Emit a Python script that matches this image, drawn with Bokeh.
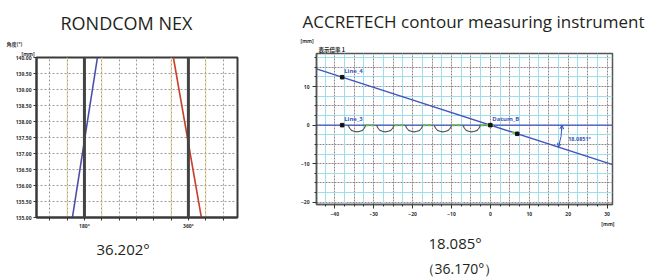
import numpy as np
from bokeh.plotting import figure
from bokeh.layouts import row
from bokeh.models import (Range1d, FixedTicker, Span, Label, Arrow, OpenHead, Grid,
                          NumeralTickFormatter, Title)
from bokeh.embed import file_html
from bokeh.resources import INLINE

FONT = "Open Sans"
JFONT = "Noto Sans CJK JP"

# ---------------- Left panel data (RONDCOM NEX) ----------------
left_title = "RONDCOM NEX"
left_result = "36.202°"
left_y_caption = "角度(°)"
left_unit = "[mm]"
left_x_ticks = [120, 150, 180, 210, 240, 270, 300, 330, 360, 390, 420]
left_x_labels = {180: "180°", 360: "360°"}
left_y_ticks = [135.0, 135.5, 136.0, 136.5, 137.0, 137.5, 138.0, 138.5, 139.0, 139.5, 140.0]
left_ref_x = [180, 360]
left_marker_x = [150, 210, 330, 390]
blue_x = [159.2, 202.5]
blue_y = [135.0, 140.0]
red_x = [334.0, 382.5]
red_y = [140.0, 135.0]

# ---------------- Right panel data (ACCRETECH) ----------------
right_title = "ACCRETECH contour measuring instrument"
right_result = "18.085°"
right_result2 = "（36.170°）"
right_scale_caption = "表示倍率 1"
right_unit = "[mm]"
right_x_major = [-40, -30, -20, -10, 0, 10, 20, 30]
right_y_major = [-20, -10, 0, 10]
right_x_minor = [-42.5, -37.5, -35, -32.5, -27.5, -25, -22.5, -17.5, -15, -12.5, -7.5, -5, -2.5,
                 2.5, 5, 7.5, 12.5, 15, 17.5, 22.5, 25, 27.5]
right_y_minor = [-17.5, -15, -12.5, -7.5, -5, -2.5, 2.5, 5, 7.5, 12.5, 15, 17.5]
grid_dark_x = [-40, -35, -30, -25, -20, -15, -10, -5, 0, 5, 10, 15, 20, 25, 30]
grid_cyan_x = [-42.5, -37.5, -32.5, -27.5, -22.5, -17.5, -12.5, -7.5, -2.5, 2.5, 7.5, 12.5, 17.5, 22.5, 27.5]
grid_dark_y = [-20, -15, -10, -5, 0, 5, 10, 15]
grid_cyan_y = [-17.5, -12.5, -7.5, -2.5, 2.5, 7.5, 12.5, 17.5]
line4_x = [-44.7, 31.4]
line4_y = [14.6, -10.25]
line3_x = [-44.7, 31.4]
line3_y = [0.0, 0.0]
scallop_cx = [-34.3, -27.0, -19.6, -12.2, -4.8]
scallop_cy = 0.64
scallop_r = 2.34
green_xs = [[-32.0, -29.4], [-24.6, -22.0], [-17.3, -14.6], [-9.9, -7.2], [-2.5, 1.3], [5.6, 6.9]]
green_ys = [[0, 0], [0, 0], [0, 0], [0, 0], [0, 0], [-1.83, -2.25]]
point_x = [-38.1, -38.1, 0.0, 6.9]
point_y = [12.45, 0.0, 0.0, -2.25]
point_names = ["Line_4", "Line_3", "Datum_B", ""]
angle_deg = 18.0851
angle_radius = 18.4
angle_text = "18.0851°"

BLUE = "#3f55c0"
TXT = "#231f20"


def small_axis(ax, size="5px"):
    ax.major_label_text_font_size = size
    ax.major_label_text_font = FONT
    ax.major_label_text_font_style = "bold"
    ax.major_label_text_color = "#333333"


def title(text, size, offset=0, standoff=0, align="left", font=FONT, style="normal", color=TXT):
    return Title(text=text, text_font=font, text_font_size=size, text_font_style=style,
                 text_color=color, align=align, offset=offset, standoff=standoff)


def no_frame_align(p):
    try:
        p.frame_align = False
    except Exception:
        pass


# =============== Left figure ===============
p1 = figure(width=290, height=277, x_range=Range1d(97, 445), y_range=Range1d(135, 140),
            output_backend="svg", toolbar_location=None, title=None,
            min_border_left=36, min_border_right=53, min_border_top=57, min_border_bottom=60)
no_frame_align(p1)
p1.outline_line_color = "#3a3a3a"
p1.outline_line_width = 2
p1.xaxis.ticker = FixedTicker(ticks=left_x_ticks)
p1.xaxis.major_label_overrides = {t: left_x_labels.get(t, "") for t in left_x_ticks}
p1.yaxis.ticker = FixedTicker(ticks=left_y_ticks)
p1.yaxis.formatter = NumeralTickFormatter(format="0.00")
for ax in (p1.xaxis[0], p1.yaxis[0]):
    small_axis(ax)
    ax.axis_line_color = "#3a3a3a"
    ax.axis_line_width = 2
    ax.major_tick_in = 0
    ax.major_tick_out = 3
    ax.major_tick_line_color = "#333333"
    ax.minor_tick_line_color = None
    ax.major_label_standoff = 2
p1.xgrid.ticker = FixedTicker(ticks=left_x_ticks)
p1.ygrid.ticker = FixedTicker(ticks=left_y_ticks)
p1.xgrid.grid_line_color = "#9a9a9a"
p1.ygrid.grid_line_color = "#9a9a9a"
p1.xgrid.grid_line_dash = "2 2"
p1.ygrid.grid_line_dash = "2 2"
for xm in left_marker_x:
    p1.add_layout(Span(location=xm, dimension="height", line_color="#e6d27a",
                       line_dash="2 2", line_width=1.2))
for xr in left_ref_x:
    p1.add_layout(Span(location=xr, dimension="height", line_color="#444444", line_width=3))
p1.line(blue_x, blue_y, line_color="#4d4da8", line_width=1.6)
p1.line(red_x, red_y, line_color="#c8402e", line_width=1.6)

# texts around the left frame (closest panel first)
p1.add_layout(title(left_unit, "5px", offset=-15, standoff=2, style="bold", color="#333333"), "above")
p1.add_layout(title(left_y_caption, "5px", offset=-30, standoff=1.5, font=JFONT, style="bold",
                    color="#333333"), "above")
p1.add_layout(title(left_title, "18px", offset=24, standoff=4), "above")
p1.add_layout(title(left_result, "15px", offset=60, standoff=11), "below")

# =============== Right figure ===============
p2 = figure(width=355, height=277, x_range=Range1d(-44.7, 31.4), y_range=Range1d(-20.6, 18.6),
            output_backend="svg", toolbar_location=None, title=None,
            min_border_left=26, min_border_right=33, min_border_top=53, min_border_bottom=70)
no_frame_align(p2)
p2.outline_line_color = "#555555"
p2.outline_line_width = 1.5
p2.xaxis.ticker = FixedTicker(ticks=right_x_major, minor_ticks=right_x_minor)
p2.yaxis.ticker = FixedTicker(ticks=right_y_major, minor_ticks=right_y_minor)
for ax in (p2.xaxis[0], p2.yaxis[0]):
    small_axis(ax)
    ax.axis_line_color = "#555555"
    ax.axis_line_width = 1.5
    ax.major_tick_in = 0
    ax.major_tick_out = 4
    ax.minor_tick_in = 0
    ax.minor_tick_out = 2
    ax.major_tick_line_color = "#333333"
    ax.minor_tick_line_color = "#333333"
    ax.major_label_standoff = 3
p2.xgrid.ticker = FixedTicker(ticks=grid_dark_x)
p2.ygrid.ticker = FixedTicker(ticks=grid_dark_y)
for g in (p2.xgrid[0], p2.ygrid[0]):
    g.grid_line_color = "#8a8a8a"
    g.grid_line_dash = "2 1"
p2.add_layout(Grid(dimension=0, ticker=FixedTicker(ticks=grid_cyan_x),
                   grid_line_color="#9fdcec", grid_line_width=1))
p2.add_layout(Grid(dimension=1, ticker=FixedTicker(ticks=grid_cyan_y),
                   grid_line_color="#9fdcec", grid_line_width=1))

p2.line(line3_x, line3_y, line_color=BLUE, line_width=1.4)
p2.line(line4_x, line4_y, line_color=BLUE, line_width=1.4)
half = np.degrees(np.arcsin(scallop_cy / scallop_r))
p2.arc(x=scallop_cx, y=[scallop_cy] * len(scallop_cx), radius=scallop_r,
       start_angle=180 + half, end_angle=360 - half, start_angle_units="deg",
       end_angle_units="deg", line_color="#555555", line_width=1.2)
p2.multi_line(green_xs, green_ys, line_color="#6cc04a", line_width=2.2, line_dash="3 2")
p2.scatter(point_x, point_y, marker="square", size=3.5, fill_color="#111111", line_color="#111111")
for nx, ny, nm in zip(point_x, point_y, point_names):
    if nm:
        p2.add_layout(Label(x=nx, y=ny, x_offset=2, y_offset=2, text=nm, text_font=FONT,
                            text_font_size="6px", text_font_style="bold",
                            text_color=BLUE, text_baseline="bottom"))

# angle dimension
p2.arc(x=0, y=0, radius=angle_radius, start_angle=-angle_deg, end_angle=0,
       start_angle_units="deg", end_angle_units="deg", line_color=BLUE, line_width=1)
a0 = np.radians(0.0)
a1 = np.radians(-angle_deg)
da = np.radians(4.0)
p2.add_layout(Arrow(end=OpenHead(size=4, line_color=BLUE, line_width=1),
                    x_start=angle_radius * np.cos(a0 - da), y_start=angle_radius * np.sin(a0 - da),
                    x_end=angle_radius * np.cos(a0), y_end=angle_radius * np.sin(a0),
                    line_color=BLUE, line_width=1))
p2.add_layout(Arrow(end=OpenHead(size=4, line_color=BLUE, line_width=1),
                    x_start=angle_radius * np.cos(a1 + da), y_start=angle_radius * np.sin(a1 + da),
                    x_end=angle_radius * np.cos(a1), y_end=angle_radius * np.sin(a1),
                    line_color=BLUE, line_width=1))
p2.add_layout(Label(x=angle_radius + 1.6, y=-3.7, text=angle_text, text_font=FONT,
                    text_font_size="5.5px", text_font_style="bold", text_color=BLUE,
                    text_baseline="middle"))

# texts around the right frame
p2.add_layout(title(right_scale_caption, "5.5px", offset=2, standoff=0, font=JFONT,
                    style="bold", color="#222222"), "above")
p2.add_layout(title(right_unit, "5px", offset=-16, standoff=0, style="bold", color="#333333"), "above")
p2.add_layout(title(right_title, "17px", offset=-14, standoff=5), "above")
p2.add_layout(title(right_unit, "5px", align="right", offset=-2, standoff=0, style="bold",
                    color="#333333"), "below")
p2.add_layout(title(right_result, "15px", offset=112, standoff=8), "below")
p2.add_layout(title(right_result2, "14px", offset=104, standoff=0), "below")

layout = row(p1, p2, spacing=0)
open("out.html", "w").write(file_html(layout, INLINE))
